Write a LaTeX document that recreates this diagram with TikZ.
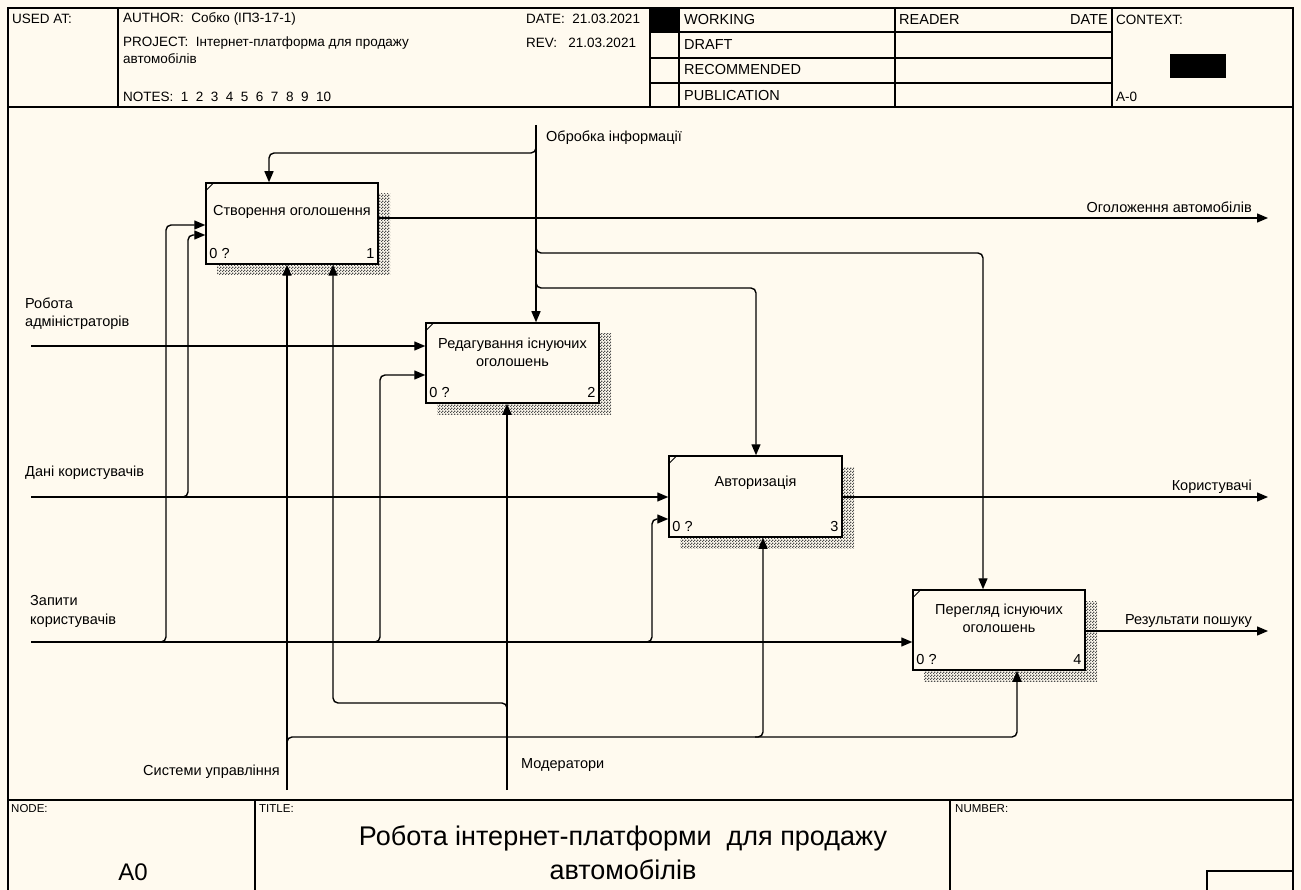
\documentclass[tikz,border=0pt]{standalone}
\usepackage{fontspec}
\setmainfont{Liberation Sans}
\usetikzlibrary{arrows.meta,patterns,calc}
\definecolor{bg}{HTML}{FFFAEF}
\pgfdeclarepatternformonly{chk}{\pgfqpoint{0pt}{0pt}}{\pgfqpoint{3pt}{3pt}}{\pgfqpoint{3pt}{3pt}}{%
  \pgfpathrectangle{\pgfqpoint{0pt}{0pt}}{\pgfqpoint{1.5pt}{1.5pt}}%
  \pgfpathrectangle{\pgfqpoint{1.5pt}{1.5pt}}{\pgfqpoint{1.5pt}{1.5pt}}%
  \pgfusepath{fill}}
\begin{document}
\begin{tikzpicture}[x=1pt,y=-1pt,
  font=\fontsize{14.5}{17}\selectfont,
  frameline/.style={line width=1.5pt},
  gridline/.style={line width=1.2pt},
  fbox/.style={draw, line width=1.5pt, fill=bg, rectangle, inner sep=0pt},
  arr/.style={line width=1.4pt, -{Triangle[length=11pt,width=9pt]}},
  lbl/.style={inner sep=0pt, anchor=west},
  lble/.style={inner sep=0pt, anchor=east},
  boxlbl/.style={inner sep=0pt, align=center, font=\fontsize{14.5}{18}\selectfont},
  boxnum/.style={inner sep=0pt, font=\fontsize{14.5}{17}\selectfont},
  hdr/.style={inner sep=0pt, anchor=west, font=\fontsize{13.5}{15}\selectfont},
  stat/.style={inner sep=0pt, anchor=west, font=\fontsize{14.5}{16}\selectfont},
  small/.style={inner sep=0pt, anchor=west, font=\fontsize{11.5}{13}\selectfont},
  shadowfill/.style={pattern=chk, pattern color=black!70},
]
\useasboundingbox (0,0) rectangle (1301,890);
\fill[bg] (0,0) rectangle (1301,890);

% ---------- frame ----------
\draw[frameline] (8,8) rectangle (1293,905);
\draw[frameline] (8,107) -- (1293,107);
\draw[frameline] (8,800) -- (1293,800);

% ---------- header ----------
\foreach \xx in {118,650,679,895,1112} \draw[gridline] (\xx,8) -- (\xx,107);
\foreach \yy in {32,58,83} \draw[gridline] (650,\yy) -- (1112,\yy);
\fill (650,8) rectangle (679,32);
\fill (1170,54) rectangle (1226,78);

\node[hdr] (usedat) at (12,19) {USED AT:};
\node[hdr] (author) at (123,19) {AUTHOR:\ \ Собко (ІПЗ-17-1)};
\node[hdr] (project) at (123,43) {PROJECT:\ \ Інтернет-платформа для продажу};
\node[hdr] (project2) at (123,59) {автомобілів};
\node[hdr] (notes) at (123,97) {NOTES:\ \ 1\ \ 2\ \ 3\ \ 4\ \ 5\ \ 6\ \ 7\ \ 8\ \ 9\ \ 10};
\node[hdr] (date) at (526,19) {DATE:\ \ 21.03.2021};
\node[hdr] (rev) at (526,43) {REV:\ \ \ 21.03.2021};
\node[stat] (working) at (684,20) {WORKING};
\node[stat] (draft) at (684,45) {DRAFT};
\node[stat] (recom) at (684,70) {RECOMMENDED};
\node[stat] (publ) at (684,96) {PUBLICATION};
\node[stat] (reader) at (899,20) {READER};
\node[stat, anchor=east] (rdate) at (1108,20) {DATE};
\node[hdr] (context) at (1116,20) {CONTEXT:};
\node[hdr] (a0ctx) at (1116,97) {A-0};

% ---------- footer ----------
\draw[frameline] (255,800) -- (255,905);
\draw[frameline] (950,800) -- (950,905);
\draw[gridline] (1207,905) -- (1207,871) -- (1293,871);
\node[small] (nodelbl) at (11,809) {NODE:};
\node[small] (titlelbl) at (259,809) {TITLE:};
\node[small] (numlbl) at (955,809) {NUMBER:};
\node[inner sep=0pt, font=\fontsize{24}{28}\selectfont] (a0) at (133,872) {A0};
\node[inner sep=0pt, align=center, font=\fontsize{27}{34}\selectfont] (title) at (623,853)
  {Робота інтернет-платформи\ \ для продажу\\автомобілів};

% ---------- shadows ----------
\fill[shadowfill] (217,194) rectangle (390,275);
\fill[shadowfill] (437,334) rectangle (611,414);
\fill[shadowfill] (680,467) rectangle (854,548);
\fill[shadowfill] (924,601) rectangle (1097,681);

% ---------- boxes ----------
\node[fbox, minimum width=172, minimum height=81] (b1) at (292,223.5) {};
\node[fbox, minimum width=173, minimum height=80] (b2) at (512.5,363) {};
\node[fbox, minimum width=173, minimum height=81] (b3) at (755.5,496.5) {};
\node[fbox, minimum width=172, minimum height=80] (b4) at (999,630) {};

\foreach \b in {b1,b2,b3,b4}
  \draw[line width=0.9pt] ([yshift=-9pt]\b.north west) -- ([xshift=9pt]\b.north west);

\node[boxlbl] (b1t) at ([yshift=11.5pt]b1.center) {Створення оголошення};
\node[boxlbl] (b2t) at ([yshift=11pt]b2.center) {Редагування існуючих\\оголошень};
\node[boxlbl] (b3t) at ([yshift=13.5pt]b3.center) {Авторизація};
\node[boxlbl] (b4t) at ([yshift=11.5pt]b4.center) {Перегляд існуючих\\оголошень};

\foreach \b/\n in {b1/1,b2/2,b3/3,b4/4}{
  \node[boxnum, anchor=base west] (\b z) at ([shift={(4pt,6pt)}]\b.south west) {0 ?};
  \node[boxnum, anchor=base east] (\b n) at ([shift={(-4pt,6pt)}]\b.south east) {\n};
}

% ---------- free ends ----------
\coordinate (ctop) at (536,125);
\coordinate (o1) at (1268,218);
\coordinate (o3) at (1268,497);
\coordinate (o4) at (1268,631);
\coordinate (i1) at (31,346);
\coordinate (i2) at (31,497);
\coordinate (i3) at (31,642);
\coordinate (m1) at (287,790);
\coordinate (m2) at (507,790);

% ---------- control ----------
\draw[arr] (ctop) -- (ctop |- b2.north);
\draw[arr, rounded corners=5] (536,143) |- (269,153) -- (269,0 |- b1.north);
\draw[arr, rounded corners=5] (536,243) |- (983,253) -- (983,0 |- b4.north);
\draw[arr, rounded corners=5] (536,278) |- (756,288) -- (756,0 |- b3.north);
\node[lbl] (ctl) at (546,138) {Обробка інформації};

% ---------- outputs ----------
\draw[arr] (b1.east |- o1) -- (o1);
\draw[arr] (b3.east |- o3) -- (o3);
\draw[arr] (b4.east |- o4) -- (o4);
\node[lble] (o1l) at (1252,207) {Оголоження автомобілів};
\node[lble] (o3l) at (1252,487) {Користувачі};
\node[lble] (o4l) at (1252,621) {Результати пошуку};

% ---------- inputs ----------
\draw[arr] (i1) -- (b2.west |- i1);
\draw[arr] (i2) -- (b3.west |- i2);
\draw[arr, rounded corners=5] (180,497) -| (188,235) -- (b1.west |- 0,235);
\draw[arr] (i3) -- (b4.west |- i3);
\draw[arr, rounded corners=5] (158,642) -| (166,225) -- (b1.west |- 0,225);
\draw[arr, rounded corners=5] (372,642) -| (380,375) -- (b2.west |- 0,375);
\draw[arr, rounded corners=5] (644,642) -| (652,519) -- (b3.west |- 0,519);
\node[lbl, align=left, font=\fontsize{14.5}{18}\selectfont] (i1l) at (25,314) {Робота\\адміністраторів};
\node[lbl] (i2l) at (25,473) {Дані користувачів};
\node[lbl, align=left, font=\fontsize{14.5}{19}\selectfont] (i3l) at (30,611) {Запити\\користувачів};

% ---------- mechanisms ----------
\draw[arr] (m1) -- (m1 |- b1.south);
\draw[arr, rounded corners=5] (287,745) |- (1017,737) -- (1017,0 |- b4.south);
\draw[arr, rounded corners=5] (755,737) -| (763,0 |- b3.south);
\draw[arr] (m2) -- (m2 |- b2.south);
\draw[arr, rounded corners=5] (507,711) |- (333,703) -- (333,0 |- b1.south);
\node[lble] (m1l) at (280,772) {Системи управління};
\node[lbl] (m2l) at (521,765) {Модератори};
\end{tikzpicture}
\end{document}
